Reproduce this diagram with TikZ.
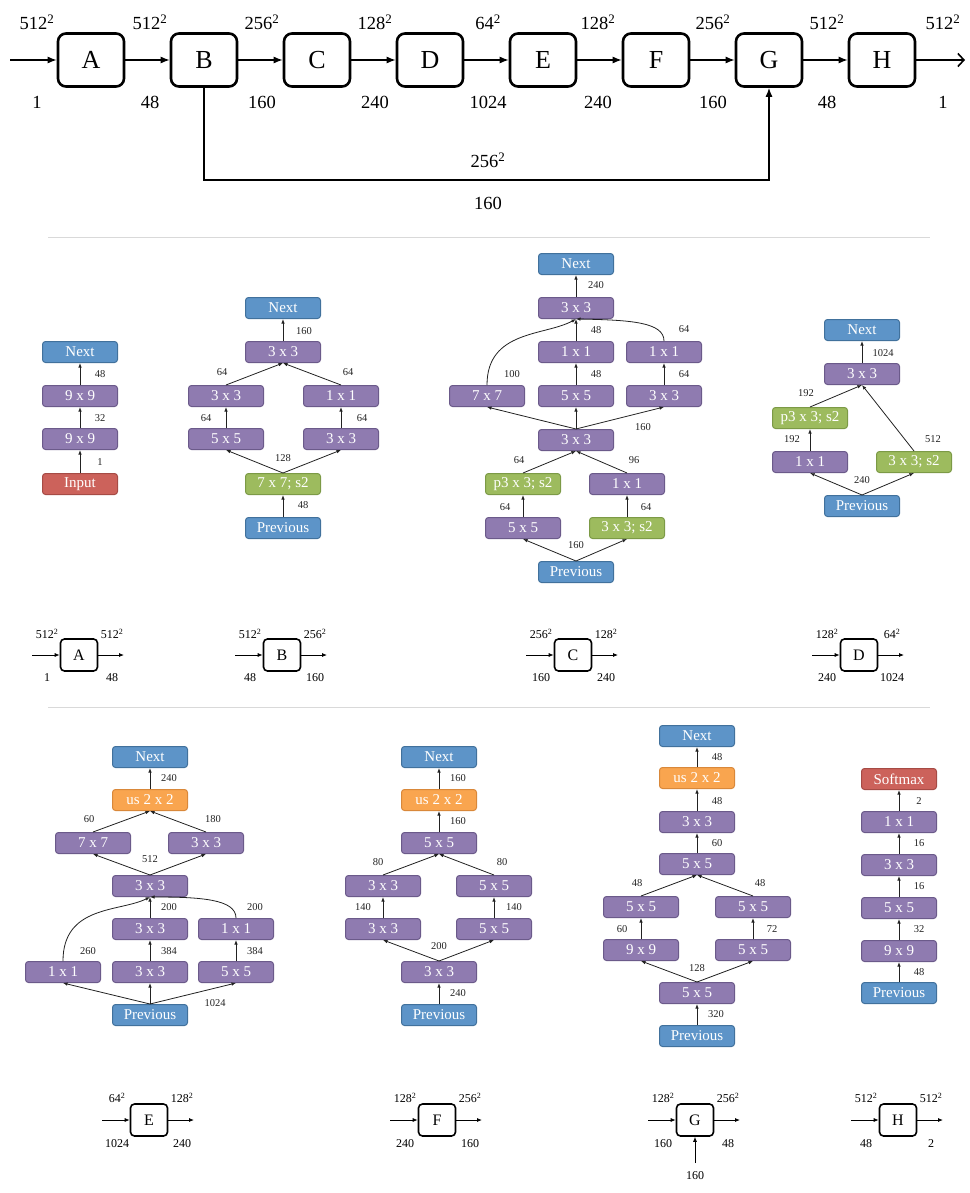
\documentclass[tikz,border=0pt]{standalone}
\usepackage{fontspec}
\setmainfont{Liberation Serif}
\usetikzlibrary{arrows.meta}
\definecolor{cblue}{HTML}{5D94C8}
\definecolor{cbluee}{HTML}{41719C}
\definecolor{cpur}{HTML}{8F7BB0}
\definecolor{cpure}{HTML}{6B5A8A}
\definecolor{cred}{HTML}{CC625B}
\definecolor{crede}{HTML}{A64B45}
\definecolor{cgrn}{HTML}{9DBB5E}
\definecolor{cgrne}{HTML}{7C9A46}
\definecolor{corg}{HTML}{F9A54F}
\definecolor{corge}{HTML}{D9883A}
\definecolor{sepc}{HTML}{D9D9D9}
\definecolor{txtc}{HTML}{222222}
\newcommand\pxsq[1]{#1\textsuperscript{2}}
\begin{document}
\begin{tikzpicture}[x=1pt,y=-1pt,
  big/.style={draw, line width=2.6pt, rounded corners=8pt, minimum width=66pt,
    minimum height=53pt, inner sep=0pt, font=\fontsize{26}{26}\selectfont},
  bigarr/.style={line width=1.3pt, -{Latex[length=9pt,width=7pt]}},
  toplbl/.style={inner sep=0pt, font=\fontsize{18.5}{18.5}\selectfont},
  mini/.style={draw, line width=1.6pt, rounded corners=4pt, minimum width=37pt,
    minimum height=32pt, inner sep=0pt, font=\fontsize{16}{16}\selectfont},
  miniarr/.style={line width=0.8pt, -{Latex[length=5pt,width=4pt]}},
  minilbl/.style={inner sep=0pt, font=\fontsize{12}{12}\selectfont},
  blk/.style={draw, line width=1pt, rounded corners=3pt, minimum width=75pt,
    minimum height=21pt, inner sep=0pt, text=white, font=\fontsize{15}{15}\selectfont},
  bb/.style={blk, fill=cblue, draw=cbluee},
  pb/.style={blk, fill=cpur, draw=cpure},
  rb/.style={blk, fill=cred, draw=crede},
  gb/.style={blk, fill=cgrn, draw=cgrne},
  ob/.style={blk, fill=corg, draw=corge},
  arr/.style={line width=0.8pt, draw=txtc, -{Latex[length=4.5pt,width=3.5pt]}},
  el/.style={inner sep=0pt, text=txtc, font=\fontsize{10.5}{10.5}\selectfont},
  sep/.style={draw=sepc, line width=1pt}
]
\useasboundingbox (0,0) rectangle (969,1193);

% ---------------- overview chain ----------------
\foreach \n/\x in {A/91,B/204,C/317,D/430,E/543,F/656,G/769,H/882}
  \node[big] (t\n) at (\x,60) {\n};
\coordinate (tin) at (10,60);
\coordinate (tout) at (965,60);
\draw[bigarr] (tin) -- (tA);
\draw[bigarr] (tA) -- (tB);
\draw[bigarr] (tB) -- (tC);
\draw[bigarr] (tC) -- (tD);
\draw[bigarr] (tD) -- (tE);
\draw[bigarr] (tE) -- (tF);
\draw[bigarr] (tF) -- (tG);
\draw[bigarr] (tG) -- (tH);
\draw[line width=1.6pt, -{Straight Barb[length=6pt,width=13pt]}] (tH) -- (tout);
\coordinate (sk1) at (204,180);
\coordinate (sk2) at (769,180);
\draw[bigarr] (tB.south) -- (sk1) -- (sk2) -- (tG.south);
\foreach \x/\t [count=\i] in {37/\pxsq{512},150/\pxsq{512},262/\pxsq{256},375/\pxsq{128},488/\pxsq{64},598/\pxsq{128},713/\pxsq{256},827/\pxsq{512},943/\pxsq{512}}
  \node[toplbl] (tu\i) at (\x,22) {\t};
\foreach \x/\t [count=\i] in {37/1,150/48,262/160,375/240,488/1024,598/240,713/160,827/48,943/1}
  \node[toplbl] (td\i) at (\x,102) {\t};
\node[toplbl] (sku) at (488,160) {\pxsq{256}};
\node[toplbl] (skd) at (488,203) {160};

% separators
\coordinate (s1a) at (48,237); \coordinate (s1b) at (930,237);
\coordinate (s2a) at (48,707); \coordinate (s2b) at (930,707);
\draw[sep] (s1a) -- (s1b);
\draw[sep] (s2a) -- (s2b);

% ---------------- block A ----------------
\node[bb] (aN) at (80,352) {Next};
\node[pb] (a2) at (80,396) {9 x 9};
\node[pb] (a1) at (80,439) {9 x 9};
\node[rb] (aI) at (80,484) {Input};
\draw[arr] (aI) -- (a1);
\draw[arr] (a1) -- (a2);
\draw[arr] (a2) -- (aN);
\node[el] (la1) at (100,374) {48};
\node[el] (la2) at (100,418) {32};
\node[el] (la3) at (100,462) {1};

% ---------------- block B ----------------
\node[bb] (bN) at (283,308) {Next};
\node[pb] (bT) at (283,352) {3 x 3};
\node[pb] (bL2) at (226,396) {3 x 3};
\node[pb] (bR2) at (341,396) {1 x 1};
\node[pb] (bL1) at (226,439) {5 x 5};
\node[pb] (bR1) at (341,439) {3 x 3};
\node[gb] (bS) at (283,484) {7 x 7; s2};
\node[bb] (bP) at (283,528) {Previous};
\draw[arr] (bP) -- (bS);
\draw[arr] (bS.north) -- (bL1.south);
\draw[arr] (bS.north) -- (bR1.south);
\draw[arr] (bL1) -- (bL2);
\draw[arr] (bR1) -- (bR2);
\draw[arr] (bL2.north) -- (bT.south);
\draw[arr] (bR2.north) -- (bT.south);
\draw[arr] (bT) -- (bN);
\node[el] (lb1) at (304,331) {160};
\node[el] (lb2) at (222,372) {64};
\node[el] (lb3) at (348,372) {64};
\node[el] (lb4) at (206,418) {64};
\node[el] (lb5) at (362,418) {64};
\node[el] (lb6) at (283,458) {128};
\node[el] (lb7) at (303,505) {48};

% ---------------- block C ----------------
\node[bb] (cN) at (576,264) {Next};
\node[pb] (cT) at (576,308) {3 x 3};
\node[pb] (cM2) at (576,352) {1 x 1};
\node[pb] (cR2) at (664,352) {1 x 1};
\node[pb] (cL) at (487,396) {7 x 7};
\node[pb] (cM1) at (576,396) {5 x 5};
\node[pb] (cR1) at (664,396) {3 x 3};
\node[pb] (cC) at (576,440) {3 x 3};
\node[gb] (cPL) at (523,484) {p3 x 3; s2};
\node[pb] (cQR) at (627,484) {1 x 1};
\node[pb] (cL0) at (523,528) {5 x 5};
\node[gb] (cR0) at (627,528) {3 x 3; s2};
\node[bb] (cP) at (576,572) {Previous};
\draw[arr] (cP.north) -- (cL0.south);
\draw[arr] (cP.north) -- (cR0.south);
\draw[arr] (cL0) -- (cPL);
\draw[arr] (cR0) -- (cQR);
\draw[arr] (cPL.north) -- (cC.south);
\draw[arr] (cQR.north) -- (cC.south);
\draw[arr] (cC.north) -- (cL.south);
\draw[arr] (cC.north) -- (cM1.south);
\draw[arr] (cC.north) -- (cR1.south);
\draw[arr] (cM1) -- (cM2);
\draw[arr] (cR1) -- (cR2);
\draw[arr] (cM2) -- (cT);
\draw[arr] (cL.north) .. controls (487,330) and (545,336) .. (cT.south);
\draw[arr] (cR2.north) .. controls (664,322) and (630,320) .. (cT.south);
\draw[arr] (cT) -- (cN);
\node[el] (lc1) at (596,285) {240};
\node[el] (lc2) at (596,330) {48};
\node[el] (lc3) at (684,329) {64};
\node[el] (lc4) at (512,374) {100};
\node[el] (lc5) at (596,374) {48};
\node[el] (lc6) at (684,374) {64};
\node[el] (lc7) at (643,427) {160};
\node[el] (lc8) at (519,460) {64};
\node[el] (lc9) at (634,460) {96};
\node[el] (lc10) at (505,507) {64};
\node[el] (lc11) at (646,507) {64};
\node[el] (lc12) at (576,545) {160};

% ---------------- block D ----------------
\node[bb] (dN) at (862,330) {Next};
\node[pb] (dT) at (862,374) {3 x 3};
\node[gb] (dP3) at (810,418) {p3 x 3; s2};
\node[pb] (dL) at (810,462) {1 x 1};
\node[gb] (dR) at (914,462) {3 x 3; s2};
\node[bb] (dP) at (862,506) {Previous};
\draw[arr] (dP.north) -- (dL.south);
\draw[arr] (dP.north) -- (dR.south);
\draw[arr] (dL) -- (dP3);
\draw[arr] (dP3.north) -- (dT.south);
\draw[arr] (dR.north) -- (dT.south);
\draw[arr] (dT) -- (dN);
\node[el] (ld1) at (883,353) {1024};
\node[el] (ld2) at (806,393) {192};
\node[el] (ld3) at (792,439) {192};
\node[el] (ld4) at (933,439) {512};
\node[el] (ld5) at (862,480) {240};

% ---------------- small block symbols, first group ----------------
\foreach \n/\x/\a/\b/\c/\d in {A/79/\pxsq{512}/\pxsq{512}/1/48,
                              B/282/\pxsq{512}/\pxsq{256}/48/160,
                              C/573/\pxsq{256}/\pxsq{128}/160/240,
                              D/859/\pxsq{128}/\pxsq{64}/240/1024}{
  \node[mini] (m\n) at (\x,655) {\n};
  \coordinate (m\n i) at (\x-47,655);
  \coordinate (m\n o) at (\x+45,655);
  \draw[miniarr] (m\n i) -- (m\n);
  \draw[miniarr] (m\n) -- (m\n o);
  \node[minilbl] (m\n ul) at (\x-32,634) {\a};
  \node[minilbl] (m\n ur) at (\x+33,634) {\b};
  \node[minilbl] (m\n dl) at (\x-32,678) {\c};
  \node[minilbl] (m\n dr) at (\x+33,678) {\d};
}

% ---------------- block E ----------------
\node[bb] (eN) at (150,757) {Next};
\node[ob] (eU) at (150,800) {us 2 x 2};
\node[pb] (eL2) at (93,843) {7 x 7};
\node[pb] (eR2) at (206,843) {3 x 3};
\node[pb] (eC) at (150,886) {3 x 3};
\node[pb] (eM1) at (150,929) {3 x 3};
\node[pb] (eR1) at (236,929) {1 x 1};
\node[pb] (eL0) at (63,972) {1 x 1};
\node[pb] (eM0) at (150,972) {3 x 3};
\node[pb] (eR0) at (236,972) {5 x 5};
\node[bb] (eP) at (150,1015) {Previous};
\draw[arr] (eP.north) -- (eL0.south);
\draw[arr] (eP.north) -- (eM0.south);
\draw[arr] (eP.north) -- (eR0.south);
\draw[arr] (eM0) -- (eM1);
\draw[arr] (eR0) -- (eR1);
\draw[arr] (eL0.north) .. controls (63,905) and (120,912) .. (eC.south);
\draw[arr] (eM1) -- (eC);
\draw[arr] (eR1.north) .. controls (236,899) and (200,897) .. (eC.south);
\draw[arr] (eC.north) -- (eL2.south);
\draw[arr] (eC.north) -- (eR2.south);
\draw[arr] (eL2.north) -- (eU.south);
\draw[arr] (eR2.north) -- (eU.south);
\draw[arr] (eU) -- (eN);
\node[el] (le1) at (169,778) {240};
\node[el] (le2) at (89,819) {60};
\node[el] (le3) at (213,819) {180};
\node[el] (le4) at (150,859) {512};
\node[el] (le5) at (169,907) {200};
\node[el] (le6) at (255,907) {200};
\node[el] (le7) at (88,951) {260};
\node[el] (le8) at (169,951) {384};
\node[el] (le9) at (255,951) {384};
\node[el] (le10) at (215,1003) {1024};

% ---------------- block F ----------------
\node[bb] (fN) at (439,757) {Next};
\node[ob] (fU) at (439,800) {us 2 x 2};
\node[pb] (fT) at (439,843) {5 x 5};
\node[pb] (fL2) at (383,886) {3 x 3};
\node[pb] (fR2) at (494,886) {5 x 5};
\node[pb] (fL1) at (383,929) {3 x 3};
\node[pb] (fR1) at (494,929) {5 x 5};
\node[pb] (fC) at (439,972) {3 x 3};
\node[bb] (fP) at (439,1015) {Previous};
\draw[arr] (fP) -- (fC);
\draw[arr] (fC.north) -- (fL1.south);
\draw[arr] (fC.north) -- (fR1.south);
\draw[arr] (fL1) -- (fL2);
\draw[arr] (fR1) -- (fR2);
\draw[arr] (fL2.north) -- (fT.south);
\draw[arr] (fR2.north) -- (fT.south);
\draw[arr] (fT) -- (fU);
\draw[arr] (fU) -- (fN);
\node[el] (lf1) at (458,778) {160};
\node[el] (lf2) at (458,821) {160};
\node[el] (lf3) at (378,862) {80};
\node[el] (lf4) at (502,862) {80};
\node[el] (lf5) at (363,907) {140};
\node[el] (lf6) at (514,907) {140};
\node[el] (lf7) at (439,946) {200};
\node[el] (lf8) at (458,993) {240};

% ---------------- block G ----------------
\node[bb] (gN) at (697,736) {Next};
\node[ob] (gU) at (697,778) {us 2 x 2};
\node[pb] (gT) at (697,822) {3 x 3};
\node[pb] (gM) at (697,864) {5 x 5};
\node[pb] (gL2) at (641,907) {5 x 5};
\node[pb] (gR2) at (753,907) {5 x 5};
\node[pb] (gL1) at (641,950) {9 x 9};
\node[pb] (gR1) at (753,950) {5 x 5};
\node[pb] (gC) at (697,993) {5 x 5};
\node[bb] (gP) at (697,1036) {Previous};
\draw[arr] (gP) -- (gC);
\draw[arr] (gC.north) -- (gL1.south);
\draw[arr] (gC.north) -- (gR1.south);
\draw[arr] (gL1) -- (gL2);
\draw[arr] (gR1) -- (gR2);
\draw[arr] (gL2.north) -- (gM.south);
\draw[arr] (gR2.north) -- (gM.south);
\draw[arr] (gM) -- (gT);
\draw[arr] (gT) -- (gU);
\draw[arr] (gU) -- (gN);
\node[el] (lg1) at (717,757) {48};
\node[el] (lg2) at (717,801) {48};
\node[el] (lg3) at (717,843) {60};
\node[el] (lg4) at (637,883) {48};
\node[el] (lg5) at (760,883) {48};
\node[el] (lg6) at (622,929) {60};
\node[el] (lg7) at (772,929) {72};
\node[el] (lg8) at (697,968) {128};
\node[el] (lg9) at (716,1014) {320};

% ---------------- block H ----------------
\node[rb] (hS) at (899,779) {Softmax};
\node[pb] (h5) at (899,822) {1 x 1};
\node[pb] (h4) at (899,865) {3 x 3};
\node[pb] (h3) at (899,908) {5 x 5};
\node[pb] (h2) at (899,951) {9 x 9};
\node[bb] (hP) at (899,993) {Previous};
\draw[arr] (hP) -- (h2);
\draw[arr] (h2) -- (h3);
\draw[arr] (h3) -- (h4);
\draw[arr] (h4) -- (h5);
\draw[arr] (h5) -- (hS);
\node[el] (lh1) at (919,801) {2};
\node[el] (lh2) at (919,843) {16};
\node[el] (lh3) at (919,886) {16};
\node[el] (lh4) at (919,929) {32};
\node[el] (lh5) at (919,972) {48};

% ---------------- small block symbols, second group ----------------
\foreach \n/\x/\a/\b/\c/\d in {E/149/\pxsq{64}/\pxsq{128}/1024/240,
                              F/437/\pxsq{128}/\pxsq{256}/240/160,
                              G/695/\pxsq{128}/\pxsq{256}/160/48,
                              H/898/\pxsq{512}/\pxsq{512}/48/2}{
  \node[mini] (m\n) at (\x,1120) {\n};
  \coordinate (m\n i) at (\x-47,1120);
  \coordinate (m\n o) at (\x+45,1120);
  \draw[miniarr] (m\n i) -- (m\n);
  \draw[miniarr] (m\n) -- (m\n o);
  \node[minilbl] (m\n ul) at (\x-32,1098) {\a};
  \node[minilbl] (m\n ur) at (\x+33,1098) {\b};
  \node[minilbl] (m\n dl) at (\x-32,1144) {\c};
  \node[minilbl] (m\n dr) at (\x+33,1144) {\d};
}
\coordinate (mGs) at (695,1163);
\draw[miniarr] (mGs) -- (mG.south);
\node[minilbl] (mGsl) at (695,1176) {160};
\end{tikzpicture}
\end{document}
